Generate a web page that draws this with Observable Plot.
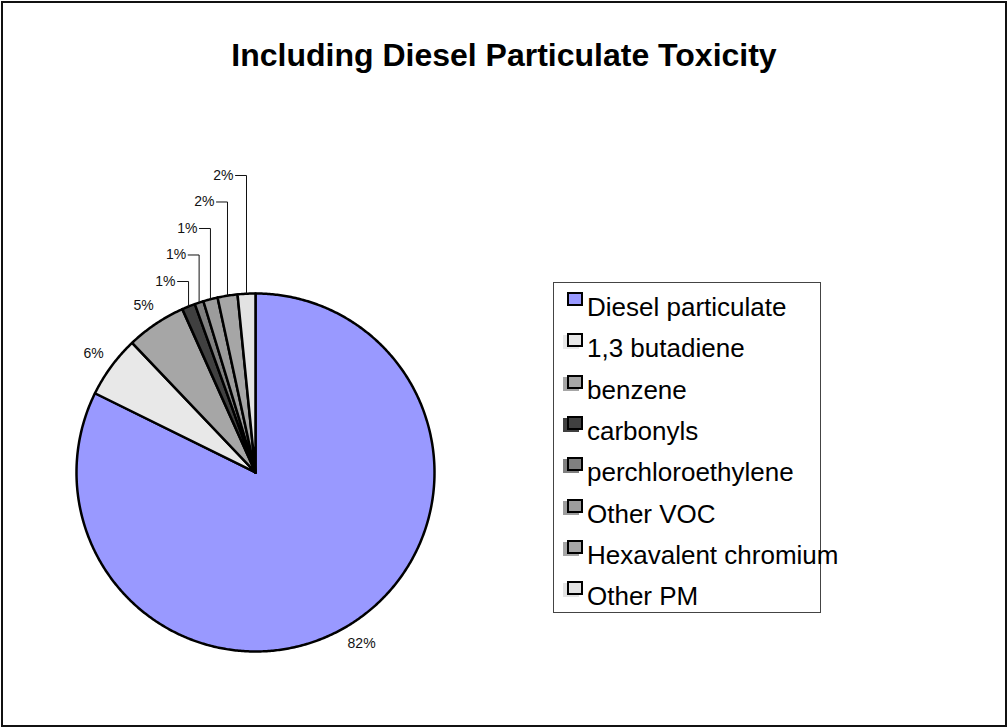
<!DOCTYPE html>
<html>
<head>
<meta charset="utf-8">
<script src="https://cdn.jsdelivr.net/npm/d3@7"></script>
<script src="https://cdn.jsdelivr.net/npm/@observablehq/plot@0.6"></script>
<style>
  body { margin: 0; background: #fff; font-family: "Liberation Sans", Arial, sans-serif; }
  #page { position: relative; width: 1008px; height: 728px; overflow: hidden; background: #fff; }
  #chart { position: absolute; left: 0; top: 0; }
  #title { position: absolute; left: 0; top: 39px; width: 1008px; text-align: center;
           font-weight: bold; font-size: 32px; line-height: 32px; color: #000; white-space: nowrap; }
  #legend { position: absolute; left: 553px; top: 282px; width: 266px; height: 329px;
            border: 1px solid #444; background: #fff; }
  .sw { position: absolute; left: 13px; width: 16px; height: 14px; box-sizing: border-box;
        border: 2px solid #000; }
  .lt { position: absolute; left: 33px; font-size: 26px; line-height: 26px; color: #000; white-space: nowrap; }
  #frame { position: absolute; left: 1px; top: 1px; width: 1002px; height: 722px;
           border: 2px solid #111; pointer-events: none; }
</style>
</head>
<body>
<div id="page">
  <div id="chart"></div>
  <div id="title"></div>
  <div id="legend"></div>
  <div id="frame"></div>
</div>
<script>
// ---- data ----
const categories = ["Diesel particulate", "1,3 butadiene", "benzene", "carbonyls",
                    "perchloroethylene", "Other VOC", "Hexavalent chromium", "Other PM"];
const shares = [82.3, 5.6, 5.4, 1.2, 0.8, 1.3, 1.8, 1.6];
const percentLabels = ["82%", "6%", "5%", "1%", "1%", "1%", "2%", "2%"];
const colors = ["#9999FF", "#E8E8E8", "#A6A6A6", "#404040", "#808080", "#9C9C9C", "#A6A6A6", "#E3E3E3"];
const titleText = "Including Diesel Particulate Toxicity";

// ---- layout constants ----
const R = 179;            // pie radius in px (1 data unit)
const labelR = 201 / R;   // radius for outside labels of big slices
const smallCut = 3;       // slices below this share get stacked leader labels

const total = d3.sum(shares);
let acc = 0;
const slices = categories.map((name, i) => {
  const a0 = acc / total * 2 * Math.PI;
  acc += shares[i];
  const a1 = acc / total * 2 * Math.PI;
  return {name, i, a0, a1, mid: (a0 + a1) / 2, share: shares[i], label: percentLabels[i]};
});

// polygon points for each slice (clockwise from 12 o'clock)
const polyPts = slices.flatMap(s => {
  const n = Math.max(2, Math.ceil((s.a1 - s.a0) / (Math.PI / 360)));
  const pts = [{name: s.name, x: 0, y: 0}];
  for (let k = 0; k <= n; k++) {
    const a = s.a0 + (s.a1 - s.a0) * k / n;
    pts.push({name: s.name, x: Math.sin(a), y: Math.cos(a)});
  }
  return pts;
});

const bigLabels = slices.filter(s => s.share >= smallCut).map(s => ({
  label: s.label, x: labelR * Math.sin(s.mid), y: labelR * Math.cos(s.mid)
}));

const smalls = slices.filter(s => s.share < smallCut);
const baseY = Math.cos(smalls[0].mid) + 25 / R;
const smallLabels = smalls.map((s, j) => ({
  name: s.name, label: s.label,
  xv: Math.sin(s.mid), ya: Math.cos(s.mid), ly: baseY + j * 26.5 / R
}));
const leaderPts = smallLabels.flatMap(d => [
  {name: d.name, x: d.xv - 11 / R, y: d.ly},
  {name: d.name, x: d.xv, y: d.ly},
  {name: d.name, x: d.xv, y: d.ya}
]);

const svg = Plot.plot({
  width: 470,
  height: 728,
  style: {background: "transparent", fontFamily: "Liberation Sans, Arial, sans-serif", fontSize: "14px"},
  x: {domain: [-1, 1], range: [76, 434], axis: null},
  y: {domain: [-1, 1], range: [651, 293], axis: null},
  color: {domain: categories, range: colors},
  marks: [
    Plot.line(polyPts, {x: "x", y: "y", z: "name", fill: "name", stroke: "#000",
                        strokeWidth: 2.5, strokeLinejoin: "round", curve: "linear-closed"}),
    Plot.line(leaderPts, {x: "x", y: "y", z: "name", stroke: "#111", strokeWidth: 1}),
    Plot.text(bigLabels, {x: "x", y: "y", text: "label", fontSize: 14, fill: "#111",
                          textAnchor: "middle", lineAnchor: "middle"}),
    Plot.text(smallLabels, {x: "xv", y: "ly", text: "label", fontSize: 14, fill: "#111",
                            dx: -13, textAnchor: "end", lineAnchor: "middle"})
  ]
});
document.getElementById("chart").appendChild(svg);

document.getElementById("title").textContent = titleText;

// legend
const legend = document.getElementById("legend");
categories.forEach((name, i) => {
  const step = 41.3;
  const sw = document.createElement("div");
  sw.className = "sw";
  sw.style.top = (9 + i * step) + "px";
  sw.style.background = colors[i];
  if (i > 0) sw.style.boxShadow = "-4px 2px 0 " + colors[i];
  legend.appendChild(sw);
  const t = document.createElement("div");
  t.className = "lt";
  t.style.top = (11 + i * step) + "px";
  t.textContent = name;
  legend.appendChild(t);
});
</script>
</body>
</html>
